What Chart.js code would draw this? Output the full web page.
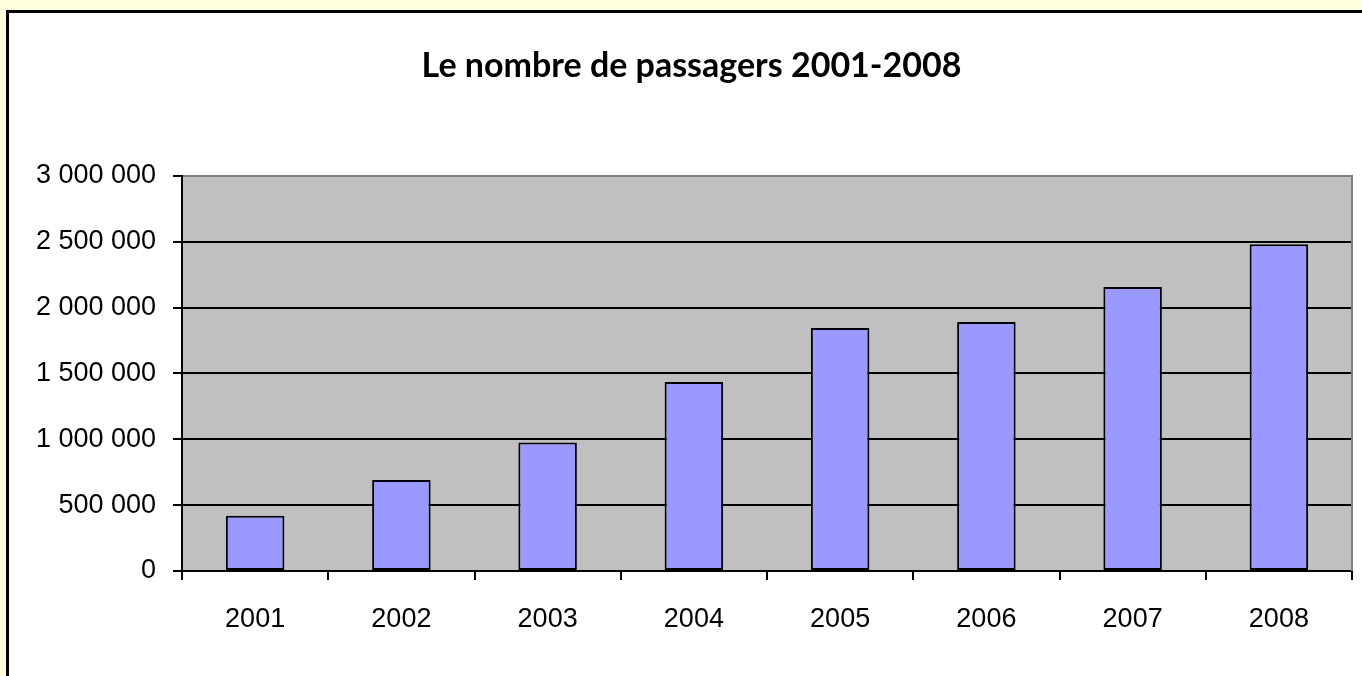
<!DOCTYPE html>
<html>
<head>
<meta charset="utf-8">
<script src="https://cdn.jsdelivr.net/npm/chart.js@4.4.1/dist/chart.umd.min.js"></script>
<style>
  html, body { margin: 0; padding: 0; background: #FFFFE0; overflow: hidden; }
  canvas { display: block; }
</style>
</head>
<body>
<canvas id="c" width="1362" height="676"></canvas>
<script>
const categories = ['2001', '2002', '2003', '2004', '2005', '2006', '2007', '2008'];
const passengers = [420000, 690000, 975000, 1435000, 1845000, 1890000, 2155000, 2480000];
const chartTitle = 'Le nombre de passagers 2001-2008';
const yMin = 0, yMax = 3000000, yStep = 500000;

function fmt(v) {
  return String(v).replace(/\B(?=(\d{3})+(?!\d))/g, ' ');
}

const framePlugin = {
  id: 'frame',
  beforeDraw(chart) {
    const ctx = chart.ctx;
    const a = chart.chartArea;
    ctx.save();
    ctx.fillStyle = '#FFFFE0';
    ctx.fillRect(0, 0, chart.width, chart.height);
    ctx.fillStyle = '#FFFFFF';
    ctx.fillRect(7.5, 11.5, 3000, 3000);
    ctx.strokeStyle = '#000000';
    ctx.lineWidth = 3;
    ctx.strokeRect(7.5, 11.5, 3000, 3000);
    ctx.fillStyle = '#C0C0C0';
    ctx.fillRect(a.left, a.top, a.right - a.left, a.bottom - a.top);
    ctx.restore();
  },
  beforeDatasetsDraw(chart) {
    const ctx = chart.ctx;
    const a = chart.chartArea;
    ctx.save();
    ctx.strokeStyle = '#808080';
    ctx.lineWidth = 2;
    ctx.beginPath();
    ctx.moveTo(a.right, a.top - 1);
    ctx.lineTo(a.right, a.bottom);
    ctx.stroke();
    ctx.restore();
  }
};

new Chart(document.getElementById('c'), {
  type: 'bar',
  data: {
    labels: categories,
    datasets: [{
      data: passengers,
      backgroundColor: '#9999FF',
      borderColor: '#000000',
      borderWidth: 2,
      borderSkipped: false,
      barPercentage: 0.4,
      categoryPercentage: 1.0
    }]
  },
  options: {
    responsive: false,
    animation: false,
    devicePixelRatio: 1,
    layout: { padding: { left: 31, right: 10, top: 0, bottom: 0 } },
    plugins: {
      legend: { display: false },
      tooltip: { enabled: false },
      title: {
        display: true,
        text: chartTitle,
        color: '#000000',
        font: { family: 'Lato', size: 34, weight: 'bold', lineHeight: 1.2 },
        padding: { top: 46, bottom: 89 }
      }
    },
    scales: {
      x: {
        offset: true,
        grid: {
          offset: true,
          drawOnChartArea: false,
          drawTicks: true,
          tickLength: 9,
          color: '#000000',
          tickColor: '#000000',
          lineWidth: 2
        },
        border: { display: true, color: '#000000', width: 2 },
        ticks: {
          color: '#000000',
          font: { family: 'Liberation Sans', size: 27 },
          padding: 23,
          maxRotation: 0,
          autoSkip: false
        },
        afterFit(scale) { scale.height = 105; }
      },
      y: {
        min: yMin,
        max: yMax,
        grid: {
          drawTicks: true,
          tickLength: 9,
          color: (ctx) => (ctx.tick && ctx.tick.value === yMax) ? '#808080' : '#000000',
          tickColor: '#000000',
          lineWidth: 2
        },
        border: { display: true, color: '#000000', width: 2 },
        ticks: {
          stepSize: yStep,
          color: '#000000',
          font: { family: 'Liberation Sans', size: 27 },
          padding: 17,
          callback: (v) => fmt(v)
        },
        afterFit(scale) { scale.width = 151; }
      }
    }
  },
  plugins: [framePlugin]
});
</script>
</body>
</html>
